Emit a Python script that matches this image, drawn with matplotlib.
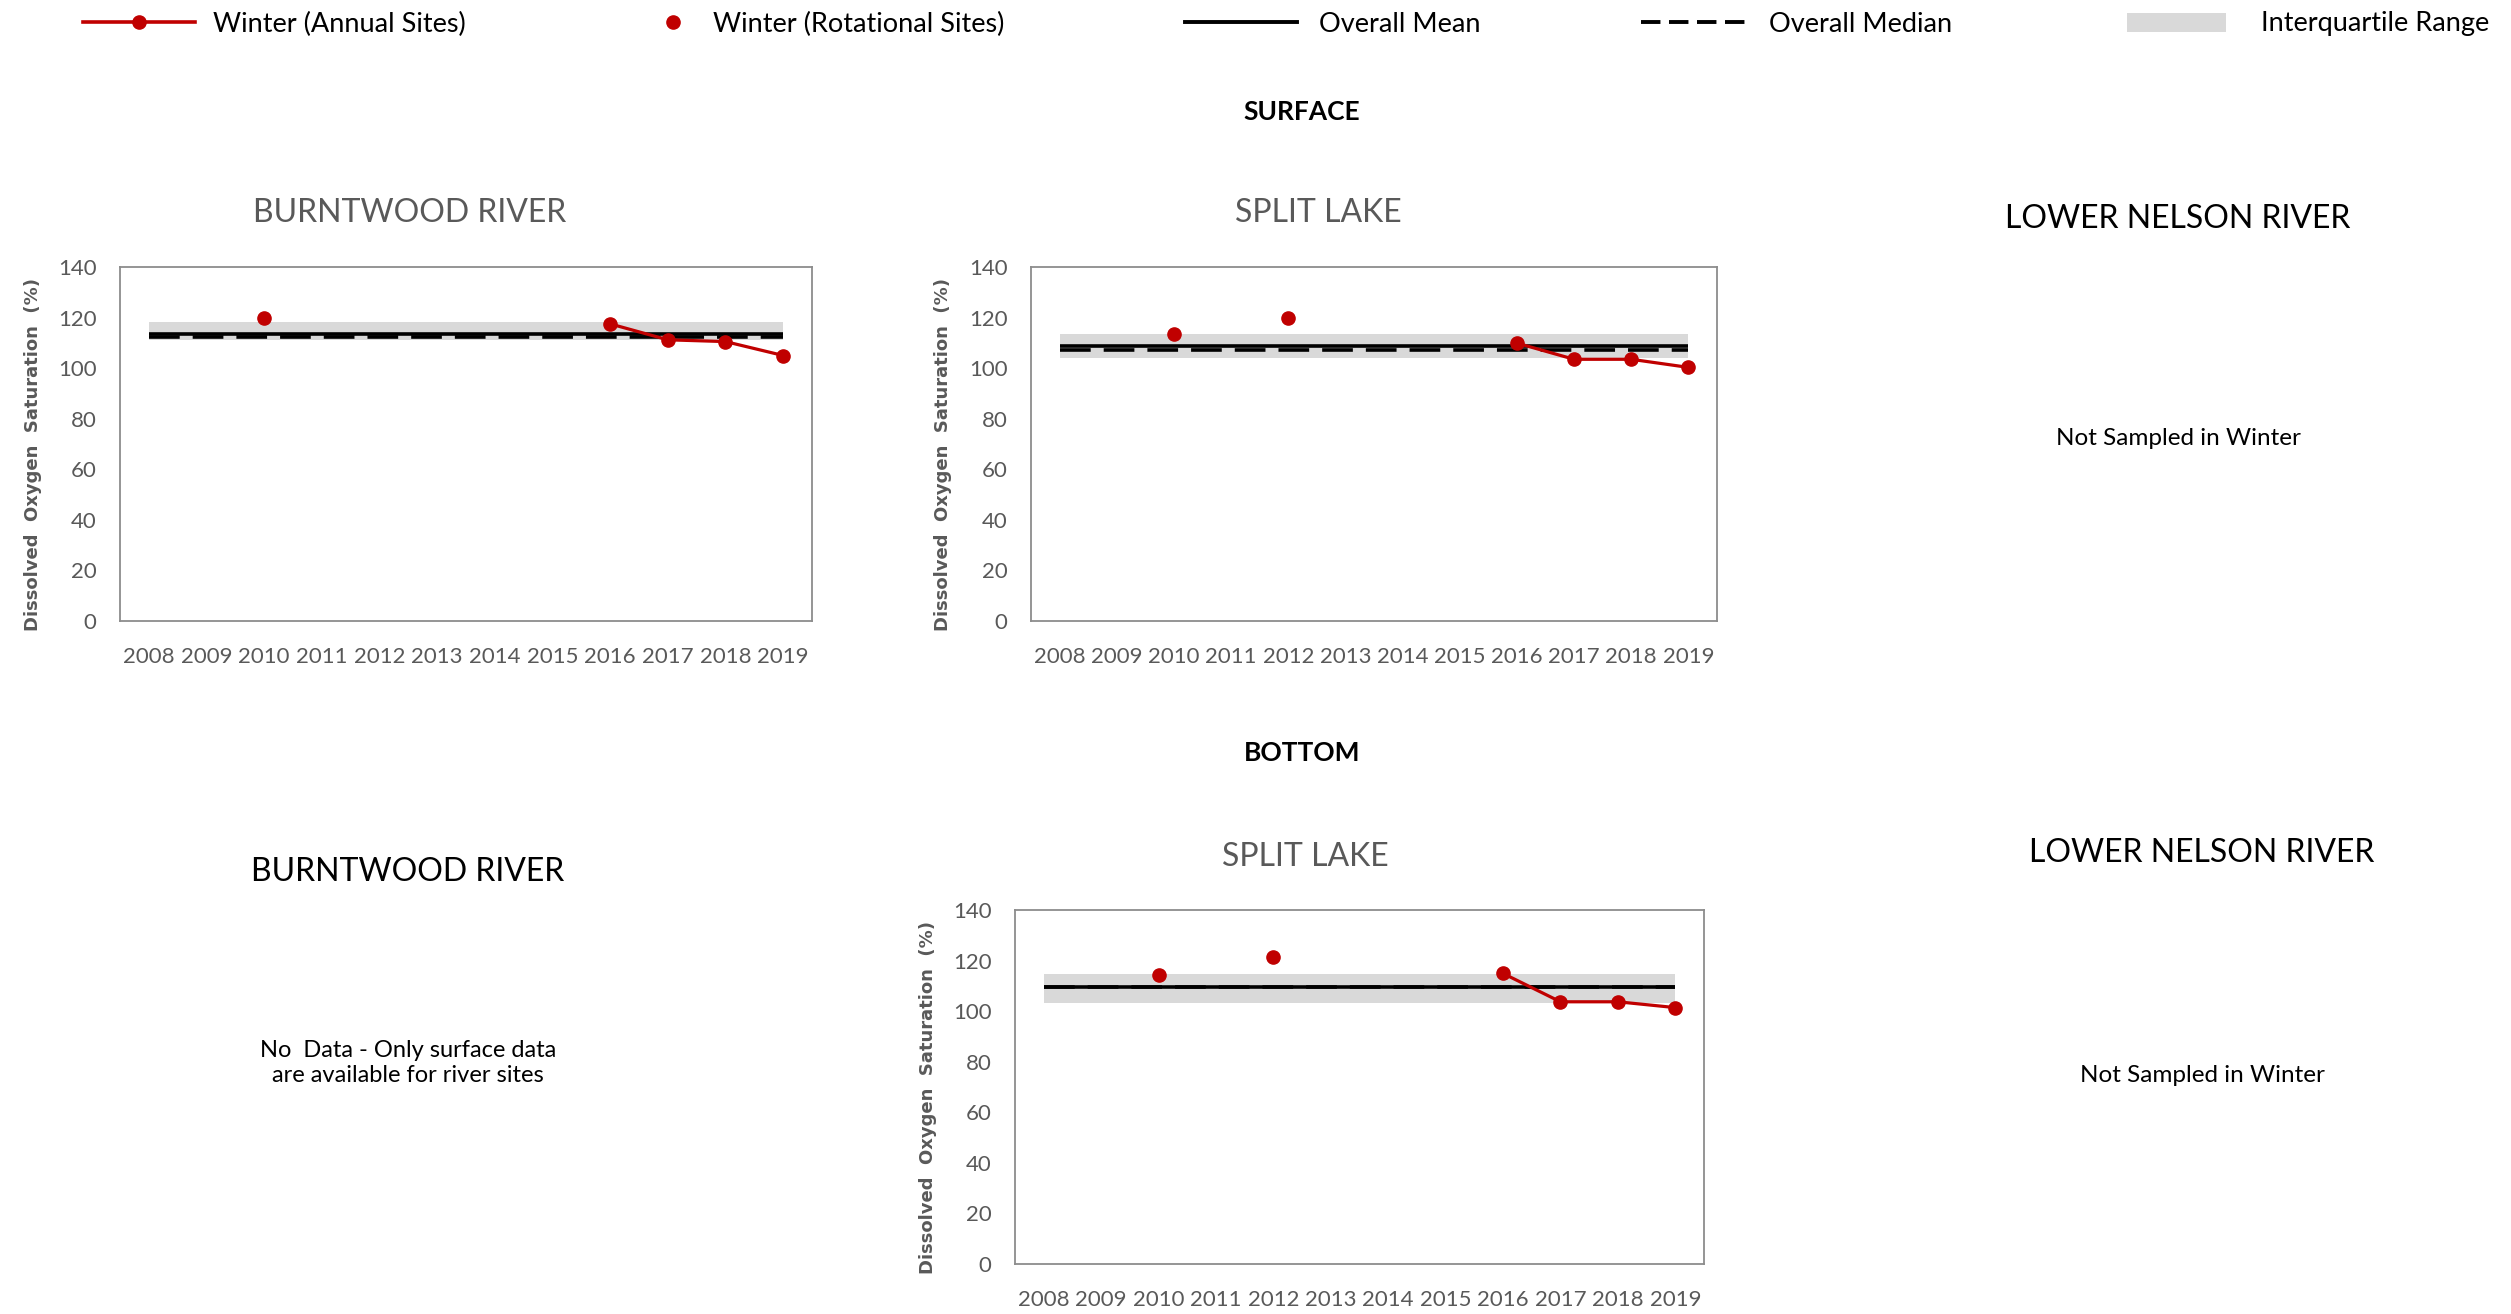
import numpy as np
import matplotlib
matplotlib.use("Agg")
import matplotlib.pyplot as plt
from matplotlib.lines import Line2D
from matplotlib.patches import Patch

plt.rcParams['font.family'] = ['Lato', 'DejaVu Sans']

years = [str(y) for y in range(2008, 2020)]
nan = np.nan

# Surface - Burntwood River
bw_s_annual = [nan, nan, nan, nan, nan, nan, nan, nan, 117.5, 111.2, 110.5, 105.0]
bw_s_rot = [nan, nan, 119.9, nan, nan, nan, nan, nan, nan, nan, nan, nan]
bw_s_mean, bw_s_median, bw_s_q1, bw_s_q3 = 113.6, 112.2, 111.3, 118.2

# Surface - Split Lake
sl_s_annual = [nan, nan, nan, nan, nan, nan, nan, nan, 109.9, 103.5, 103.5, 100.3]
sl_s_rot = [nan, nan, 113.6, nan, 119.9, nan, nan, nan, nan, nan, nan, nan]
sl_s_mean, sl_s_median, sl_s_q1, sl_s_q3 = 108.8, 107.3, 104.0, 113.5

# Bottom - Split Lake
sl_b_annual = [nan, nan, nan, nan, nan, nan, nan, nan, 114.9, 103.7, 103.7, 101.4]
sl_b_rot = [nan, nan, 114.1, nan, 121.3, nan, nan, nan, nan, nan, nan, nan]
sl_b_mean, sl_b_median, sl_b_q1, sl_b_q3 = 109.6, 109.4, 103.4, 114.5

yticks = [0, 20, 40, 60, 80, 100, 120, 140]

W, H = 2511, 1314
fig = plt.figure(figsize=(W / 100, H / 100), dpi=100)

RED = '#c00000'
GREY_TXT = '#595959'
IQR_C = '#d9d9d9'


def add_axes_px(left, top, right, bottom):
    return fig.add_axes([left / W, 1 - bottom / H, (right - left) / W, (bottom - top) / H])


def draw_panel(ax, annual, rot, mean, median, q1, q3, labx):
    x = np.arange(len(years))
    ax.fill_between([x[0], x[-1]], [q1, q1], [q3, q3], color=IQR_C, lw=0, zorder=1)
    ax.plot([x[0], x[-1]], [mean, mean], color='black', lw=2.6, solid_capstyle='butt', zorder=2)
    ax.plot([x[0], x[-1]], [median, median], color='black', lw=2.6, dashes=(8.5, 3.6),
            dash_capstyle='butt', zorder=3)
    ax.plot(x, annual, color=RED, lw=2.3, marker='o', ms=9.5, mec=RED, mfc=RED, zorder=4)
    ax.plot(x, rot, color=RED, lw=0, marker='o', ms=9.5, mec=RED, mfc=RED, zorder=4)
    ax.set_xlim(-0.5, len(years) - 0.5)
    ax.set_ylim(0, 140)
    ax.set_yticks(yticks)
    ax.set_xticks(x)
    ax.set_xticklabels(years)
    ax.tick_params(axis='both', length=0, labelsize=16, colors=GREY_TXT)
    ax.tick_params(axis='y', pad=17)
    ax.tick_params(axis='x', pad=19)
    for s in ax.spines.values():
        s.set_color('#8c8c8c')
        s.set_linewidth(1.3)
    ax.set_ylabel('Dissolved  Oxygen  Saturation  (%)', family='DejaVu Sans', fontweight='bold',
                  fontsize=13, color=GREY_TXT)
    ax.yaxis.set_label_coords(labx, 0.47)


ax1 = add_axes_px(120, 267, 812, 621)
draw_panel(ax1, bw_s_annual, bw_s_rot, bw_s_mean, bw_s_median, bw_s_q1, bw_s_q3, -0.113)

ax2 = add_axes_px(1031, 267, 1717, 621)
draw_panel(ax2, sl_s_annual, sl_s_rot, sl_s_mean, sl_s_median, sl_s_q1, sl_s_q3, -0.115)

ax3 = add_axes_px(1015, 910, 1704, 1264)
draw_panel(ax3, sl_b_annual, sl_b_rot, sl_b_mean, sl_b_median, sl_b_q1, sl_b_q3, -0.113)


def ftext(xp, yp, s, **kw):
    fig.text(xp / W, 1 - yp / H, s, ha='center', va='center', **kw)


ftext(1302, 112, 'SURFACE', fontsize=19, fontweight='bold', color='black')
ftext(1302, 753, 'BOTTOM', fontsize=19, fontweight='bold', color='black')
ftext(410, 213, 'BURNTWOOD RIVER', fontsize=23, color=GREY_TXT)
ftext(1318, 213, 'SPLIT LAKE', fontsize=23, color=GREY_TXT)
ftext(1305, 857, 'SPLIT LAKE', fontsize=23, color=GREY_TXT)
ftext(2178, 219, 'LOWER NELSON RIVER', fontsize=23, color='black')
ftext(2178, 439, 'Not Sampled in Winter', fontsize=17.5, color='black')
ftext(2202, 853, 'LOWER NELSON RIVER', fontsize=23, color='black')
ftext(2202, 1075, 'Not Sampled in Winter', fontsize=17.5, color='black')
ftext(408, 872, 'BURNTWOOD RIVER', fontsize=23, color='black')
ftext(408, 1063, 'No  Data - Only surface data\nare available for river sites', fontsize=17,
      color='black', linespacing=1.25)

# Legend entries
LFS = 19.5
fpx = LFS * 100 / 72


def leg(xpx, handle, label, hl_px, gap_px):
    fig.legend(handles=[handle], labels=[label], loc='center left',
               bbox_to_anchor=(xpx / W, 1 - 24 / H), frameon=False, borderpad=0,
               borderaxespad=0, fontsize=LFS, handlelength=hl_px / fpx,
               handletextpad=gap_px / fpx)


leg(83, Line2D([], [], color=RED, lw=2.6, marker='o', ms=9.5, mfc=RED, mec=RED),
    'Winter (Annual Sites)', 112, 18)
leg(657, Line2D([], [], color=RED, lw=0, marker='o', ms=9.5, mfc=RED, mec=RED),
    'Winter (Rotational Sites)', 32, 24)
leg(1185, Line2D([], [], color='black', lw=2.8),
    'Overall Mean', 112, 22)
leg(1641, Line2D([], [], color='black', lw=2.8, dashes=(5, 2.2)),
    'Overall Median', 112, 16)
leg(2127, Patch(facecolor=IQR_C, edgecolor='none'),
    'Interquartile Range', 99, 35)

fig.savefig('out.png', dpi=100)
